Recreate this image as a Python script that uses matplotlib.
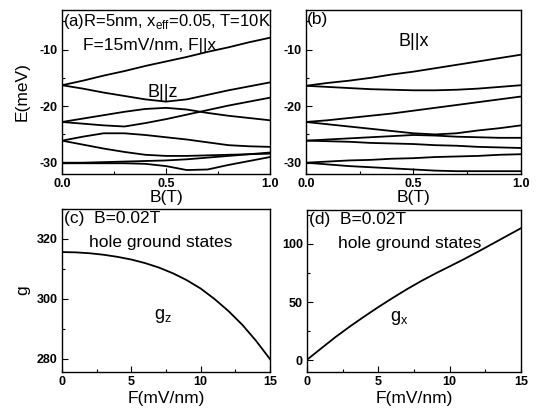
import matplotlib
matplotlib.use("Agg")
import matplotlib.pyplot as plt
from matplotlib.ticker import MultipleLocator
import numpy as np

plt.rcParams['font.family'] = ['Liberation Sans', 'DejaVu Sans']
plt.rcParams['axes.unicode_minus'] = False

# ---- data ----
B = [0.0, 0.1, 0.2, 0.3, 0.4, 0.5, 0.6, 0.7, 0.8, 0.9, 1.0]

# panel (a): B || z
Ea_1 = [-16.3, -15.5, -14.6, -13.8, -12.9, -12.1, -11.3, -10.4, -9.6, -8.7, -7.9]
Ea_2 = [-16.3, -16.9, -17.6, -18.2, -18.8, -19.2, -18.8, -18.0, -17.2, -16.5, -15.8]
Ea_3 = [-22.8, -22.2, -21.6, -21.0, -20.5, -20.3, -20.6, -21.2, -21.7, -22.1, -22.5]
Ea_4 = [-22.8, -23.1, -23.4, -23.6, -23.0, -22.3, -21.5, -20.7, -19.9, -19.2, -18.5]
Ea_5 = [-26.1, -25.4, -24.8, -24.8, -25.1, -25.5, -25.9, -26.4, -26.9, -27.1, -27.2]
Ea_6 = [-26.1, -26.8, -27.5, -28.1, -28.6, -28.8, -28.8, -28.7, -28.6, -28.5, -28.4]
Ea_7 = [-30.0, -30.0, -29.9, -29.8, -29.7, -29.6, -29.4, -29.1, -28.8, -28.5, -28.2]
Ea_8 = [-30.1, -30.1, -30.1, -30.1, -30.2, -30.6, -31.3, -31.2, -30.4, -29.7, -29.0]

# panel (b): B || x
Eb_1 = [-16.4, -15.9, -15.5, -15.0, -14.4, -13.9, -13.3, -12.7, -12.1, -11.5, -10.9]
Eb_2 = [-16.4, -16.6, -16.8, -17.0, -17.1, -17.2, -17.2, -17.1, -16.9, -16.6, -16.3]
Eb_3 = [-22.8, -22.5, -22.1, -21.7, -21.3, -20.8, -20.3, -19.8, -19.3, -18.8, -18.3]
Eb_4 = [-22.8, -23.2, -23.6, -24.0, -24.4, -24.8, -25.0, -24.8, -24.3, -23.9, -23.4]
Eb_5 = [-26.1, -25.9, -25.7, -25.5, -25.3, -25.1, -25.2, -25.4, -25.5, -25.6, -25.6]
Eb_6 = [-26.1, -26.2, -26.3, -26.5, -26.6, -26.7, -26.9, -27.0, -27.2, -27.3, -27.4]
Eb_7 = [-30.0, -29.8, -29.6, -29.5, -29.3, -29.2, -29.0, -28.9, -28.8, -28.6, -28.5]
Eb_8 = [-30.0, -30.3, -30.6, -30.8, -31.0, -31.2, -31.4, -31.5, -31.5, -31.5, -31.5]

# panels (c), (d)
F = [0, 1, 2, 3, 4, 5, 6, 7, 8, 9, 10, 11, 12, 13, 14, 15]
g_z = [315.6, 315.5, 315.2, 314.7, 314.0, 313.1, 311.9, 310.4, 308.5, 306.2,
       303.4, 299.9, 295.9, 291.3, 285.9, 279.8]
g_x = [0.5, 10.3, 20.0, 29.0, 37.5, 45.7, 53.5, 61.0, 68.0, 74.5,
       80.6, 86.8, 93.3, 100.0, 106.7, 113.4]

Ea = [Ea_1, Ea_2, Ea_3, Ea_4, Ea_5, Ea_6, Ea_7, Ea_8]
Eb = [Eb_1, Eb_2, Eb_3, Eb_4, Eb_5, Eb_6, Eb_7, Eb_8]

fig = plt.figure(figsize=(5.37, 4.15), dpi=100)
axa = fig.add_axes([0.1155, 0.5807, 0.3873, 0.3952])
axb = fig.add_axes([0.5698, 0.5807, 0.4004, 0.3952])
axc = fig.add_axes([0.1155, 0.1036, 0.3873, 0.3928])
axd = fig.add_axes([0.5717, 0.1036, 0.3985, 0.3904])

lw = 1.3
for E in Ea:
    axa.plot(B, E, color='black', lw=lw)
for E in Eb:
    axb.plot(B, E, color='black', lw=lw)
axc.plot(F, g_z, color='black', lw=lw)
axd.plot(F, g_x, color='black', lw=lw)

for ax in (axa, axb):
    ax.set_xlim(0, 1)
    ax.set_ylim(-32, -3)
    ax.xaxis.set_minor_locator(MultipleLocator(0.25))
    ax.yaxis.set_minor_locator(MultipleLocator(5))
    ax.set_xticks([0, 0.5, 1.0])
    ax.set_xticklabels(['0.0', '0.5', '1.0'])
    ax.set_yticks([-10, -20, -30])
    ax.set_yticklabels(['-10', '-20', '-30'])
    ax.set_xlabel('B(T)', fontsize=12.5, labelpad=0)

for ax in (axc, axd):
    ax.set_xlim(0, 15)
    ax.xaxis.set_major_locator(MultipleLocator(5))
    ax.xaxis.set_minor_locator(MultipleLocator(2.5))
    ax.set_xlabel('F(mV/nm)', fontsize=12.5, labelpad=2)

axc.set_ylim(275.5, 330)
axc.yaxis.set_major_locator(MultipleLocator(20))
axc.yaxis.set_minor_locator(MultipleLocator(10))
axd.set_ylim(-10, 129)
axd.yaxis.set_major_locator(MultipleLocator(50))
axd.yaxis.set_minor_locator(MultipleLocator(25))

for ax in (axa, axb, axc, axd):
    ax.tick_params(which='both', direction='in', width=0.8)
    ax.tick_params(which='major', length=4, pad=3)
    ax.tick_params(which='minor', length=2)
    for lab in ax.get_xticklabels() + ax.get_yticklabels():
        lab.set_fontsize(9)
        lab.set_fontweight('bold')
    for s in ax.spines.values():
        s.set_linewidth(1.0)

axa.set_ylabel('E(meV)', fontsize=12.5, labelpad=7)
axc.set_ylabel('g', fontsize=12.5, labelpad=5)

txt = dict(fontsize=12.5, color='black')
axa.text(0.005, 0.99, '(a)R=5nm, x$_{\\mathregular{eff}}$=0.05, T=10K', transform=axa.transAxes,
         ha='left', va='top', fontsize=12, color='black')
axa.text(0.10, 0.83, 'F=15mV/nm, F||x', transform=axa.transAxes, ha='left', va='top', **txt)
axa.text(0.41, 0.50, 'B||z', transform=axa.transAxes, ha='left', va='center', fontsize=13)

axb.text(0.005, 0.99, '(b)', transform=axb.transAxes, ha='left', va='top', **txt)
axb.text(0.43, 0.805, 'B||x', transform=axb.transAxes, ha='left', va='center', fontsize=13)

axc.text(0.01, 0.99, '(c)  B=0.02T', transform=axc.transAxes, ha='left', va='top', **txt)
axc.text(0.13, 0.84, 'hole ground states', transform=axc.transAxes, ha='left', va='top', **txt)
axc.text(0.44, 0.345, 'g$_\\mathregular{z}$', transform=axc.transAxes, ha='left', va='center', fontsize=13)

axd.text(0.01, 0.99, '(d)  B=0.02T', transform=axd.transAxes, ha='left', va='top', **txt)
axd.text(0.145, 0.84, 'hole ground states', transform=axd.transAxes, ha='left', va='top', **txt)
axd.text(0.39, 0.335, 'g$_\\mathregular{x}$', transform=axd.transAxes, ha='left', va='center', fontsize=13)

fig.savefig('out.png', dpi=100)
